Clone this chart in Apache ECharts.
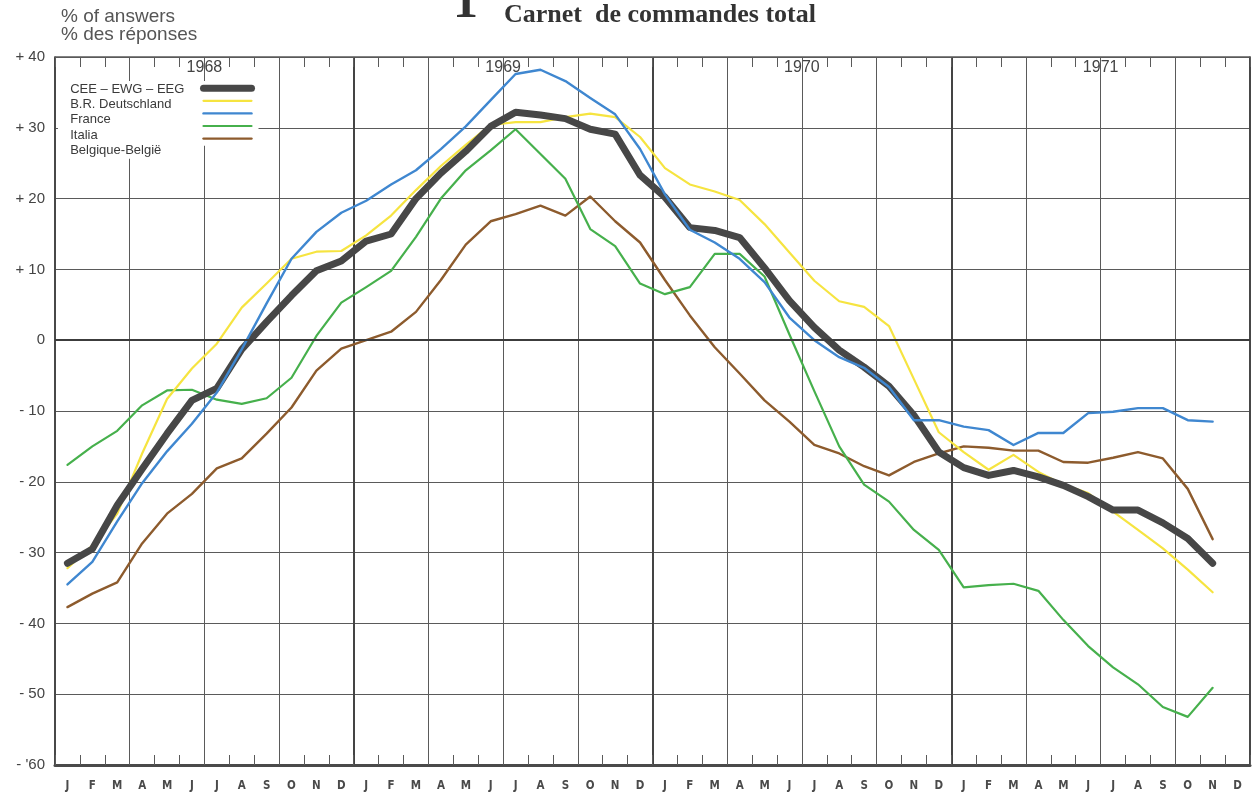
<!DOCTYPE html>
<html>
<head>
<meta charset="utf-8">
<script src="https://cdn.jsdelivr.net/npm/echarts@6/dist/echarts.min.js"></script>
<style>
html,body{margin:0;padding:0;background:#ffffff;}
#chart{width:1257px;height:798px;}
</style>
</head>
<body>
<div id="chart"></div>
<script>
// ---- data ----
const monthLetters = ['J','F','M','A','M','J','J','A','S','O','N','D'];
const years = ['1968','1969','1970','1971'];
const months = [].concat(monthLetters, monthLetters, monthLetters, monthLetters);
const yTickLabels = {'40':'+ 40','30':'+ 30','20':'+ 20','10':'+ 10','0':'0','-10':'- 10','-20':'- 20','-30':'- 30','-40':'- 40','-50':'- 50','-60':"- '60"};
const seriesNames = ['CEE – EWG – EEG','B.R. Deutschland','France','Italia','Belgique-België'];

const cee = [-31.5,-29.5,-23.3,-18.2,-13.2,-8.5,-6.8,-1.3,2.6,6.3,9.8,11.2,
  14.0,15.0,20.0,23.6,26.7,30.2,32.2,31.8,31.3,29.8,29.1,23.3,
  20.2,15.9,15.5,14.5,10.2,5.6,1.8,-1.4,-3.8,-6.5,-10.6,-15.8,
  -18.0,-19.1,-18.4,-19.3,-20.5,-22.1,-24.0,-24.0,-25.8,-28.0,-31.5,null];
const deutschland = [-32.2,-29.0,-24.5,-16.0,-8.3,-4.0,-0.5,4.6,8.0,11.5,12.5,12.6,
  14.8,17.6,21.2,24.6,27.6,30.4,30.8,30.8,31.5,32.0,31.5,28.7,
  24.3,22.0,21.0,19.8,16.4,12.4,8.4,5.5,4.7,2.0,-5.5,-13.0,
  -15.8,-18.3,-16.2,-18.6,-20.4,-21.6,-24.2,-26.8,-29.4,-32.4,-35.6,null];
const france = [-34.5,-31.3,-25.6,-20.2,-15.7,-11.8,-7.4,-1.3,5.2,11.5,15.3,18.0,
  19.7,22.0,24.0,27.0,30.2,33.9,37.6,38.2,36.6,34.2,31.9,27.0,
  20.6,15.6,13.8,11.5,8.2,3.2,0.0,-2.4,-3.9,-6.6,-11.3,-11.3,
  -12.2,-12.7,-14.8,-13.1,-13.1,-10.3,-10.1,-9.6,-9.6,-11.3,-11.5,null];
const italia = [-17.6,-15.0,-12.8,-9.2,-7.1,-7.0,-8.4,-9.0,-8.2,-5.3,0.6,5.3,
  7.5,9.8,14.6,20.0,24.0,26.8,29.8,26.3,22.8,15.7,13.3,8.0,
  6.5,7.5,12.2,12.2,9.0,0.8,-7.2,-15.0,-20.4,-22.8,-26.8,-29.6,
  -34.9,-34.6,-34.4,-35.4,-39.5,-43.2,-46.2,-48.6,-51.8,-53.2,-49.1,null];
const belgique = [-37.7,-35.8,-34.2,-28.7,-24.5,-21.7,-18.1,-16.7,-13.2,-9.5,-4.3,-1.2,
  0.0,1.2,4.0,8.5,13.5,16.8,17.8,19.0,17.6,20.3,16.8,13.8,
  8.5,3.5,-1.0,-4.7,-8.5,-11.5,-14.8,-16.0,-17.8,-19.1,-17.2,-16.0,
  -15.0,-15.2,-15.6,-15.6,-17.2,-17.3,-16.6,-15.8,-16.7,-21.0,-28.1,null];

const colors = ['#474747','#f6e440','#3f87d0','#46b04c','#8d5b2d'];
const widths = [7,2.2,2.4,2.2,2.4];
const dataSets = [cee, deutschland, france, italia, belgique];

const chart = echarts.init(document.getElementById('chart'), null, {renderer:'canvas'});
const gridColor = '#5a5a5a';

const series = [];
const order = [4,3,1,0,2];
order.forEach(function(k){
  series.push({
    name: seriesNames[k],
    type: 'line',
    data: dataSets[k],
    xAxisIndex: 0,
    yAxisIndex: 0,
    symbol: 'none',
    smooth: false,
    z: 3,
    lineStyle: {color: colors[k], width: widths[k], cap:'round', join:'round'},
    itemStyle: {color: colors[k]},
    markLine: k===4 ? {
      silent: true, symbol: 'none', label:{show:false},
      lineStyle:{color:'#3c3c3c', width:2.2, type:'solid'},
      data:[{yAxis:0}]
    } : undefined
  });
});

const legendRow = 13;
const legendGap = 2.2;

const option = {
  backgroundColor: '#ffffff',
  animation: false,
  title: [
    {text:'1', left:448, top:-26, textStyle:{fontFamily:'Liberation Serif', fontWeight:'bold', fontSize:50, color:'#333'}},
    {text:'Carnet  de commandes total', left:499, top:-3, textStyle:{fontFamily:'Liberation Serif', fontWeight:'bold', fontSize:26, color:'#333'}},
    {text:'% of answers\n% des réponses', left:56, top:3, textStyle:{fontFamily:'Liberation Sans', fontWeight:'normal', fontSize:19, lineHeight:18, color:'#555'}}
  ],
  legend: [
    {
      // texts
      orient:'vertical', left:58, top:81, z:5,
      selectedMode:false,
      itemWidth:0, itemHeight:legendRow, itemGap:legendGap,
      backgroundColor:'#ffffff', padding:[2,6,2,2],
      data: seriesNames.map(function(n){ return {name:n, itemStyle:{opacity:0}, lineStyle:{opacity:0, width:0}}; }),
      textStyle:{fontFamily:'Liberation Sans', fontSize:13, lineHeight:legendRow, color:'#3a3a3a'}
    },
    {
      // line samples
      orient:'vertical', left:180, top:81, z:4,
      selectedMode:false,
      itemWidth:48, itemHeight:legendRow, itemGap:legendGap,
      backgroundColor:'#ffffff', padding:[2,2,2,20],
      formatter:function(){ return ''; },
      data: seriesNames.map(function(n, k){ return {name:n, itemStyle:{opacity:0, borderWidth:0}, lineStyle:{width:widths[k], cap:'round'}}; }),
      textStyle:{fontSize:12, lineHeight:legendRow}
    }
  ],
  grid: {left:55, right:7, top:57, bottom:33, containLabel:false},
  xAxis: [
    {
      type:'category', data: months, position:'bottom', boundaryGap:true,
      axisLine:{show:true, onZero:false, lineStyle:{color:'#4a4a4a', width:3}},
      axisTick:{show:true, inside:true, length:10, interval:0, lineStyle:{color:gridColor, width:1}},
      axisLabel:{interval:0, margin:15, fontFamily:'DejaVu Sans Condensed', fontWeight:'bold', fontSize:11.5, color:'#4a4a4a'},
      splitLine:{show:true, interval:function(i){return i%3===0;}, lineStyle:{color:gridColor, width:1}}
    },
    {
      type:'category', data: months, position:'top', boundaryGap:true,
      axisLine:{show:true, onZero:false, lineStyle:{color:gridColor, width:1.5}},
      axisTick:{show:true, inside:true, length:10, interval:0, lineStyle:{color:gridColor, width:1}},
      axisLabel:{show:false}, splitLine:{show:false}
    },
    {
      type:'value', position:'top', min:0, max:48, interval:6,
      axisLine:{show:false, onZero:false}, axisTick:{show:false}, splitLine:{show:false},
      axisLabel:{show:true, inside:true, margin:3, fontFamily:'Liberation Sans', fontSize:16, color:'#444',
        formatter:function(v){ return (v%12===6) ? years[(v-6)/12] : ''; }}
    },
    {
      type:'value', position:'top', min:0, max:48, interval:12,
      axisLine:{show:false, onZero:false}, axisTick:{show:false}, axisLabel:{show:false},
      splitLine:{show:true, lineStyle:{color:'#444', width:2}}
    }
  ],
  yAxis: [{
    type:'value', min:-60, max:40, interval:10,
    axisLine:{show:true, onZero:false, lineStyle:{color:'#4a4a4a', width:1.5}},
    axisTick:{show:false},
    axisLabel:{margin:10, fontFamily:'Liberation Sans', fontSize:15, color:'#444',
      formatter:function(v){ return yTickLabels[String(v)]; }},
    splitLine:{show:true, lineStyle:{color:gridColor, width:1}}
  }, {
    type:'value', min:-60, max:40, position:'right',
    axisLine:{show:true, onZero:false, lineStyle:{color:'#4a4a4a', width:1.5}},
    axisTick:{show:false}, axisLabel:{show:false}, splitLine:{show:false}
  }],
  series: series
};
chart.setOption(option);
</script>
</body>
</html>
